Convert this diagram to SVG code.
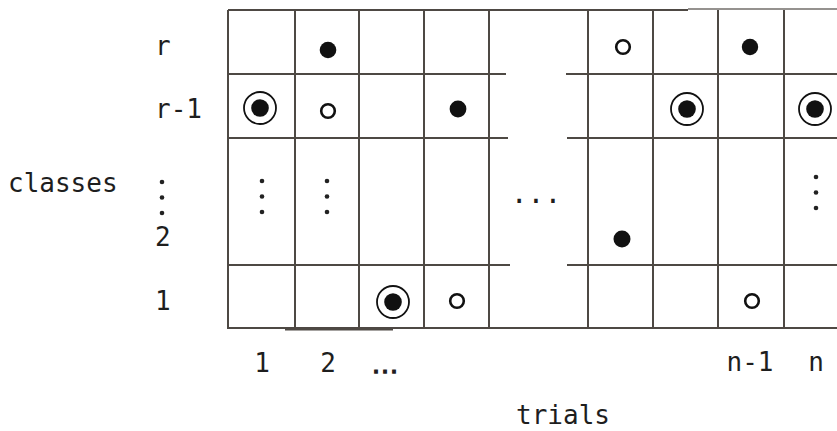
<svg xmlns="http://www.w3.org/2000/svg" width="837" height="431" viewBox="0 0 837 431">
<style>
.g{stroke:#4e4944;stroke-width:2;fill:none}
.t{font-family:"DejaVu Sans Mono","Liberation Mono",monospace;font-size:26px;fill:#1e1e1e}
.f{fill:#111}
.o{fill:none;stroke:#111;stroke-width:2.6}
.ring{fill:none;stroke:#111;stroke-width:1.8}
.d{fill:#222}
</style>
<defs>
<g id="ringed"><circle class="ring" r="16"/><circle class="f" r="8.8"/></g>
<g id="vdots"><circle class="d" cx="0" cy="0" r="2.3"/><circle class="d" cx="0" cy="15.5" r="2.3"/><circle class="d" cx="0" cy="31" r="2.3"/></g>
</defs>
<rect width="837" height="431" fill="#fff"/>
<g id="grid">
<line class="g" x1="228" y1="10" x2="688" y2="10"/>
<line class="g" x1="688" y1="9" x2="837" y2="9" stroke-opacity="0.6"/>
<line class="g" x1="228" y1="74" x2="506" y2="74"/>
<line class="g" x1="566" y1="74" x2="837" y2="74"/>
<line class="g" x1="228" y1="138" x2="508" y2="138"/>
<line class="g" x1="567" y1="138" x2="837" y2="138"/>
<line class="g" x1="228" y1="265" x2="510" y2="265"/>
<line class="g" x1="567" y1="265" x2="837" y2="265"/>
<line class="g" x1="228" y1="328" x2="837" y2="328"/>
<line class="g" x1="285" y1="329" x2="393" y2="329" style="stroke-width:3"/>
<line class="g" x1="228" y1="10" x2="228" y2="329"/>
<line class="g" x1="295" y1="10" x2="295" y2="329"/>
<line class="g" x1="359" y1="10" x2="359" y2="329"/>
<line class="g" x1="424" y1="10" x2="424" y2="329"/>
<line class="g" x1="489" y1="10" x2="489" y2="329"/>
<line class="g" x1="588" y1="10" x2="588" y2="329"/>
<line class="g" x1="653" y1="10" x2="653" y2="329"/>
<line class="g" x1="718" y1="10" x2="718" y2="329"/>
<line class="g" x1="784" y1="10" x2="784" y2="329"/>
</g>
<g id="marks">
<circle class="f" cx="328" cy="50" r="8.3"/>
<circle class="o" cx="623" cy="47" r="6.8"/>
<circle class="f" cx="750" cy="47" r="8.2"/>
<use href="#ringed" x="260" y="108"/>
<circle class="o" cx="328" cy="111" r="6.8"/>
<circle class="f" cx="458" cy="109" r="8.4"/>
<use href="#ringed" x="687" y="109"/>
<use href="#ringed" x="815" y="109"/>
<use href="#vdots" x="262" y="181"/>
<use href="#vdots" x="327" y="181"/>
<use href="#vdots" x="816" y="177"/>
<text class="t" x="536" y="203" text-anchor="middle" style="font-size:28px">...</text>
<circle class="f" cx="622" cy="239" r="8.5"/>
<use href="#ringed" x="393" y="302"/>
<circle class="o" cx="457" cy="301" r="6.8"/>
<circle class="o" cx="752" cy="301" r="6.8"/>
</g>
<g id="labels">
<text class="t" x="155" y="55">r</text>
<text class="t" x="155" y="118">r-1</text>
<text class="t" x="8" y="192">classes</text>
<use href="#vdots" x="162" y="182"/>
<text class="t" x="155" y="246">2</text>
<text class="t" x="155" y="310">1</text>
<text class="t" x="262" y="372" text-anchor="middle">1</text>
<text class="t" x="328" y="372" text-anchor="middle">2</text>
<text class="t" x="385" y="373" text-anchor="middle" style="font-size:15px;font-weight:bold;stroke:#1e1e1e;stroke-width:1.4">...</text>
<text class="t" x="750" y="371" text-anchor="middle">n-1</text>
<text class="t" x="816" y="371" text-anchor="middle">n</text>
<text class="t" x="563" y="424" text-anchor="middle">trials</text>
</g>
</svg>
